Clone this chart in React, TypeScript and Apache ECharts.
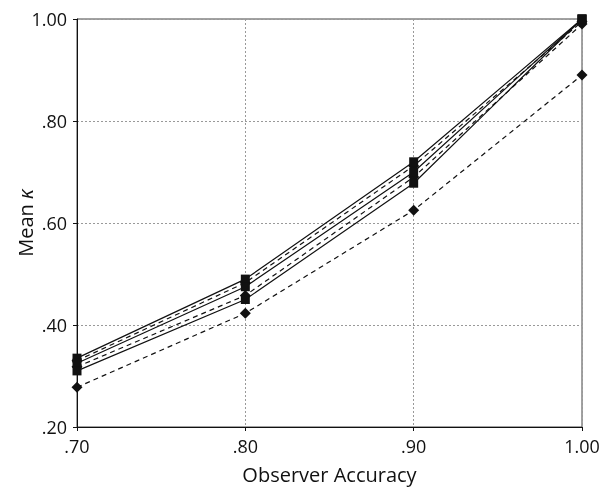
import React, { useEffect, useRef } from "react";
import * as echarts from "echarts";

const xValues = [0.7, 0.8, 0.9, 1.0];
const xTickLabels = [".70", ".80", ".90", "1.00"];
const yTickLabels = [".20", ".40", ".60", ".80", "1.00"];

const solidA = [0.335, 0.49, 0.72, 1.0];
const solidB = [0.325, 0.475, 0.7, 1.0];
const solidC = [0.31, 0.45, 0.678, 1.0];
const dashedA = [0.33, 0.483, 0.712, 0.995];
const dashedB = [0.318, 0.458, 0.69, 0.99];
const dashedC = [0.278, 0.423, 0.625, 0.89];

const solidSeries = [solidA, solidB, solidC];
const dashedSeries = [dashedA, dashedB, dashedC];

const FONT = "'Open Sans', 'Noto Sans', sans-serif";

function fmt(v: number, labels: string[], start: number) {
  const idx = Math.round((v - start) * 10);
  return labels[idx] ?? "";
}

export default function App() {
  const ref = useRef<HTMLDivElement>(null);
  useEffect(() => {
    if (!ref.current) return;
    const chart = echarts.init(ref.current, undefined, { renderer: "svg" });
    const pair = (ys: number[]) => xValues.map((x, i) => [x, ys[i]]);
    const series: any[] = [];
    dashedSeries.forEach((ys, i) => {
      series.push({
        type: "line",
        name: "dashed" + i,
        data: pair(ys),
        symbol: "diamond",
        symbolSize: 11,
        lineStyle: { color: "#111", width: 1.2, type: [5, 4] },
        itemStyle: { color: "#111" },
        z: 3,
      });
    });
    solidSeries.forEach((ys, i) => {
      series.push({
        type: "line",
        name: "solid" + i,
        data: pair(ys),
        symbol: "rect",
        symbolSize: 9,
        lineStyle: { color: "#111", width: 1.2, type: "solid" },
        itemStyle: { color: "#111" },
        z: 4,
      });
    });
    chart.setOption({
      animation: false,
      grid: {
        left: 77,
        right: 21,
        top: 19,
        bottom: 61,
        containLabel: false,
        outerBoundsMode: "none",
        show: true,
        borderColor: "#444",
        borderWidth: 1,
        backgroundColor: "transparent",
      },
      graphic: [
        {
          type: "text",
          x: 25,
          y: 223,
          rotation: Math.PI / 2,
          style: {
            text: "{a|Mean }{b|κ}",
            align: "center",
            verticalAlign: "middle",
            fill: "#111",
            rich: {
              a: { fontFamily: FONT, fontSize: 20, color: "#111" },
              b: {
                fontFamily: FONT,
                fontSize: 20,
                fontStyle: "italic",
                color: "#111",
              },
            },
          },
        },
      ],
      xAxis: {
        type: "value",
        min: 0.7,
        max: 1.0,
        interval: 0.1,
        name: "Observer Accuracy",
        nameLocation: "middle",
        nameGap: 37,
        nameTextStyle: { fontFamily: FONT, fontSize: 20, color: "#111" },
        axisLine: { show: true, lineStyle: { color: "#111", width: 1 } },
        axisTick: { show: true, length: 4, lineStyle: { color: "#111" } },
        axisLabel: {
          fontFamily: FONT,
          fontSize: 18,
          color: "#111",
          margin: 10,
          formatter: (v: number) => fmt(v, xTickLabels, 0.7),
        },
        splitLine: {
          show: true,
          lineStyle: { color: "#999", type: [2, 2], width: 1 },
        },
      },
      yAxis: {
        type: "value",
        min: 0.2,
        max: 1.0,
        interval: 0.2,
        axisLine: { show: true, lineStyle: { color: "#111", width: 1 } },
        axisTick: { show: true, length: 4, lineStyle: { color: "#111" } },
        axisLabel: {
          fontFamily: FONT,
          fontSize: 18,
          color: "#111",
          margin: 10,
          formatter: (v: number) =>
            yTickLabels[Math.round((v - 0.2) * 5)] ?? "",
        },
        splitLine: {
          show: true,
          lineStyle: { color: "#999", type: [2, 2], width: 1 },
        },
      },
      series,
    });
    return () => chart.dispose();
  }, []);
  return (
    <div
      ref={ref}
      style={{ position: "fixed", left: 0, top: 0, width: 603, height: 488 }}
    />
  );
}
